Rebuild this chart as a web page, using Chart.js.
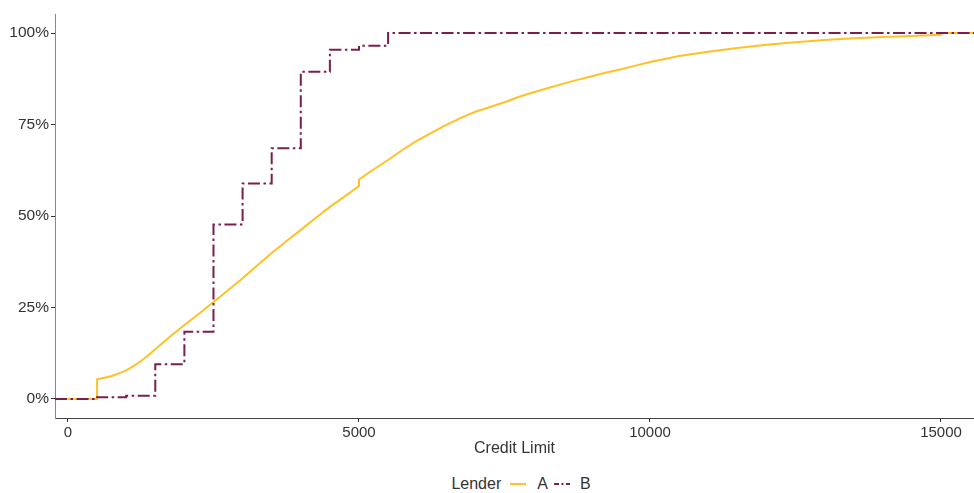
<!DOCTYPE html>
<html>
<head>
<meta charset="utf-8">
<script src="https://cdn.jsdelivr.net/npm/chart.js@4/dist/chart.umd.min.js"></script>
<style>
  html, body { margin:0; padding:0; background:#fff; }
  body { width:974px; height:493px; overflow:hidden; font-family:"Liberation Sans", Arial, sans-serif; color:#333; }
  #wrap { position:relative; width:974px; height:470px; }
  #legend { position:absolute; left:68px; top:474px; width:906px; height:19px; display:flex; justify-content:center; align-items:center; font-size:16px; color:#333; }
  #legend svg { display:block; }
</style>
</head>
<body>
<div id="wrap"><canvas id="c" width="974" height="470"></canvas></div>
<div id="legend"></div>
<script>
// ECDF of credit limit per lender
const X_MIN = -223, X_MAX = 15567;
const X_TICKS = [0, 5000, 10000, 15000];
const Y_TICKS = [0, 0.25, 0.5, 0.75, 1];

const A_X = [X_MIN, 500, 500, 625, 750, 875, 1000, 1125, 1250, 1375, 1500, 1750, 2000, 2250, 2500, 2750, 3000, 3250, 3500, 3750, 4000, 4250, 4500, 4750, 5000, 5000, 5250, 5500, 5750, 6000, 6250, 6500, 6750, 7000, 7250, 7500, 7750, 8000, 8250, 8500, 8750, 9000, 9250, 9500, 9750, 10000, 10500, 11000, 11500, 12000, 12500, 13000, 13500, 14000, 14500, 15000, 15000, X_MAX];
const A_Y = [0, 0, 0.054, 0.058, 0.063, 0.07, 0.078, 0.09, 0.103, 0.119, 0.136, 0.17, 0.202, 0.233, 0.265, 0.297, 0.33, 0.365, 0.399, 0.431, 0.462, 0.494, 0.525, 0.553, 0.582, 0.6, 0.627, 0.653, 0.681, 0.706, 0.728, 0.749, 0.768, 0.785, 0.798, 0.811, 0.826, 0.838, 0.85, 0.861, 0.872, 0.882, 0.892, 0.901, 0.911, 0.921, 0.937, 0.949, 0.959, 0.968, 0.975, 0.981, 0.986, 0.989, 0.992, 0.995, 1, 1];

const B_X = [X_MIN, 500, 1000, 1500, 2000, 2500, 3000, 3500, 4000, 4500, 5000, 5500, X_MAX];
const B_Y = [0, 0.005, 0.009, 0.095, 0.184, 0.477, 0.589, 0.685, 0.894, 0.954, 0.965, 1, 1];

const COL_A = '#FFC125';
const COL_B = '#7A1E4B';
const DASH_B = [12, 3.5, 2.5, 3.5];
const FONT = '"Liberation Sans", Arial, sans-serif';

const pts = (xs, ys) => xs.map((x, i) => ({x: x, y: ys[i]}));

const ctx = document.getElementById('c').getContext('2d');
const chart = new Chart(ctx, {
  type: 'line',
  data: {
    datasets: [
      { label:'A', data: pts(A_X, A_Y), borderColor: COL_A, borderWidth: 2, pointRadius: 0, fill: false, stepped: false, order: 1 },
      { label:'B', data: pts(B_X, B_Y), borderColor: COL_B, borderWidth: 2, borderDash: DASH_B, pointRadius: 0, fill: false, stepped: 'before', order: 0 }
    ]
  },
  options: {
    responsive: false,
    animation: false,
    layout: { padding: { top: 14, right: 0, left: 0, bottom: 0 } },
    plugins: { legend: { display: false }, tooltip: { enabled: false } },
    scales: {
      x: {
        type: 'linear', min: X_MIN, max: X_MAX,
        afterBuildTicks: s => { s.ticks = X_TICKS.map(v => ({value: v})); },
        afterFit: s => { s.height = 52; },
        ticks: { color:'#333', font: { family: FONT, size: 15 }, padding: 2, maxRotation: 0, callback: v => String(v) },
        grid: { display: true, drawOnChartArea: false, drawTicks: true, tickLength: 4, color: '#333' },
        border: { display: true, color: '#444', width: 1 },
        title: { display: true, text: 'Credit Limit', color:'#333', font: { family: FONT, size: 16 }, padding: { top: 0, bottom: 12 } }
      },
      y: {
        type: 'linear', min: -0.052, max: 1.052,
        afterBuildTicks: s => { s.ticks = Y_TICKS.map(v => ({value: v})); },
        afterFit: s => { s.width = 55; },
        ticks: { color:'#333', font: { family: FONT, size: 15.5 }, padding: 2, callback: v => Math.round(v * 100) + '%' },
        grid: { display: true, drawOnChartArea: false, drawTicks: true, tickLength: 4, color: '#333' },
        border: { display: true, color: '#888', width: 1 }
      }
    }
  }
});

// legend (ggplot style, under the x title)
const legend = document.getElementById('legend');
legend.innerHTML =
  '<span style="margin-right:9px">Lender</span>' +
  '<svg width="16" height="10"><line x1="0" y1="5" x2="16" y2="5" stroke="' + COL_A + '" stroke-width="2"/></svg>' +
  '<span style="margin:0 6px 0 11px">A</span>' +
  '<svg width="16" height="10"><line x1="0" y1="5" x2="16" y2="5" stroke="' + COL_B + '" stroke-width="2" stroke-dasharray="5,2.5,2,2.5"/></svg>' +
  '<span style="margin-left:10px">B</span>';
</script>
</body>
</html>
